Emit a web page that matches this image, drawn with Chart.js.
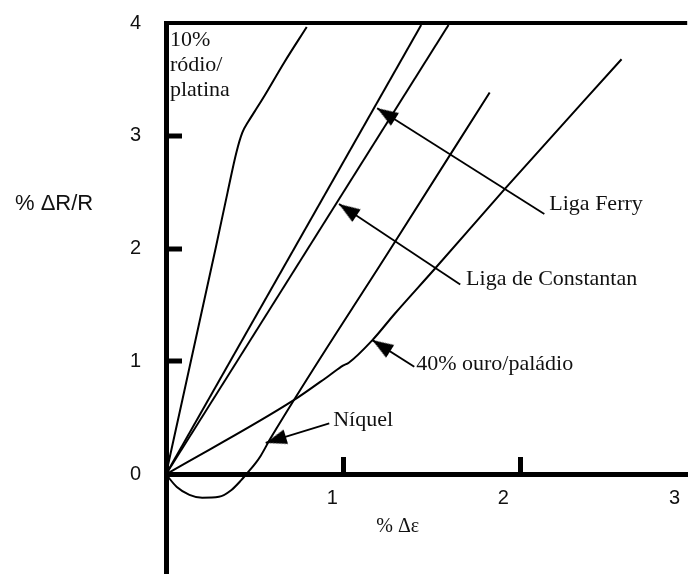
<!DOCTYPE html>
<html>
<head>
<meta charset="utf-8">
<script src="https://cdn.jsdelivr.net/npm/chart.js@4/dist/chart.umd.min.js"></script>
<style>
  html, body { margin: 0; padding: 0; background: #fff; overflow: hidden; }
  #wrap { position: relative; width: 699px; height: 584px; }
</style>
</head>
<body>
<div id="wrap"><canvas id="c"></canvas></div>
<script>
// ---- data ----
const rodioX = [0, 0.281, 0.347, 0.397, 0.430, 0.463, 0.501, 0.556, 0.667, 0.793];
const rodioY = [0, 2.013, 2.499, 2.855, 3.028, 3.124, 3.219, 3.358, 3.653, 3.965];
const ferryX = [0, 1.438];
const ferryY = [0, 3.983];
const constantanX = [0, 1.592];
const constantanY = [0, 3.983];
const niquelX = [0, 0.061, 0.132, 0.204, 0.298, 0.369, 0.424, 0.452, 0.507, 0.534, 0.590, 1.278, 1.824];
const niquelY = [0, -0.113, -0.182, -0.208, -0.200, -0.139, -0.052, 0, 0.104, 0.165, 0.321, 2.030, 3.384];
const ouroX = [0, 0.722, 0.920, 0.997, 1.030, 1.163, 1.289, 1.510, 1.912, 2.567];
const ouroY = [0, 0.659, 0.876, 0.963, 0.989, 1.189, 1.423, 1.813, 2.534, 3.679];

// arrows: Ferry, Constantan, 40% ouro/paládio, Níquel
const arrowTailX = [2.132, 1.658, 1.399, 0.920];
const arrowTailY = [2.308, 1.683, 0.954, 0.451];
const arrowTipX = [1.190, 0.975, 1.163, 0.562];
const arrowTipY = [3.245, 2.395, 1.189, 0.278];

const curveLabels = ['Liga Ferry', 'Liga de Constantan', '40% ouro/paládio', 'Níquel'];
const rodioLabel = ['10%', 'ródio/', 'platina'];

const yTicks = [0, 1, 2, 3, 4];
const xTickMarks = [1, 2];
const xTickLabels = [1, 2, 3];
const yTitle = '% ΔR/R';
const xTitle = '% Δε';

// ---- annotation anchors (data units) ----
const labelAnchorX = [2.160, 1.691, 1.410, 0.942];
const labelAnchorY = [2.343, 1.675, 0.920, 0.425];
const rodioAnchorX = 0.022;
const rodioAnchorY = [3.792, 3.575, 3.349];

const pts = (xs, ys) => xs.map((x, i) => ({x: x, y: ys[i]}));

// arrowhead image: apex at the image centre, pointing up
const head = document.createElement('canvas');
head.width = 50; head.height = 50;
(function () {
  const g = head.getContext('2d');
  g.fillStyle = '#000';
  g.beginPath();
  g.moveTo(25, 25); g.lineTo(17.5, 46); g.lineTo(32.5, 46);
  g.closePath(); g.fill();
})();

function arrowRotation(c) {
  const d = c.dataset.data;
  const xs = c.chart.scales.x, ys = c.chart.scales.y;
  const dx = xs.getPixelForValue(d[1].x) - xs.getPixelForValue(d[0].x);
  const dy = ys.getPixelForValue(d[1].y) - ys.getPixelForValue(d[0].y);
  return Math.atan2(dx, -dy) * 180 / Math.PI;
}

const curveStyle = {
  showLine: true, borderColor: '#000', backgroundColor: '#000',
  borderWidth: 2, pointRadius: 0, fill: false
};

const datasets = [
  Object.assign({label: '10% ródio/platina', data: pts(rodioX, rodioY), cubicInterpolationMode: 'monotone'}, curveStyle),
  Object.assign({label: 'Liga Ferry', data: pts(ferryX, ferryY)}, curveStyle),
  Object.assign({label: 'Liga de Constantan', data: pts(constantanX, constantanY)}, curveStyle),
  Object.assign({label: 'Níquel', data: pts(niquelX, niquelY), cubicInterpolationMode: 'monotone'}, curveStyle),
  Object.assign({label: '40% ouro/paládio', data: pts(ouroX, ouroY), cubicInterpolationMode: 'monotone'}, curveStyle)
];
arrowTailX.forEach((tx, i) => {
  datasets.push({
    label: 'arrow ' + curveLabels[i],
    data: [{x: tx, y: arrowTailY[i]}, {x: arrowTipX[i], y: arrowTipY[i]}],
    showLine: true, borderColor: '#000', backgroundColor: '#000', borderWidth: 1.8,
    pointRadius: [0, 10], pointHoverRadius: 0,
    pointStyle: head, pointRotation: arrowRotation
  });
});

const textPlugin = {
  id: 'texts',
  afterDatasetsDraw(chart) {
    const ctx = chart.ctx, xs = chart.scales.x, ys = chart.scales.y;
    ctx.save();
    ctx.fillStyle = '#111';
    ctx.textAlign = 'left';
    ctx.textBaseline = 'alphabetic';
    ctx.font = '22px "Liberation Serif", "Times New Roman", serif';
    curveLabels.forEach((t, i) => {
      ctx.fillText(t, xs.getPixelForValue(labelAnchorX[i]), ys.getPixelForValue(labelAnchorY[i]));
    });
    rodioLabel.forEach((t, i) => {
      ctx.fillText(t, xs.getPixelForValue(rodioAnchorX), ys.getPixelForValue(rodioAnchorY[i]));
    });
    // axis titles
    ctx.font = '20px "Liberation Serif", "Times New Roman", serif';
    ctx.textAlign = 'center';
    ctx.fillText(xTitle, xs.getPixelForValue(1.306), ys.getPixelForValue(-0.512));
    ctx.font = '22px "Liberation Sans", Arial, sans-serif';
    ctx.textAlign = 'left';
    ctx.fillText(yTitle, ys.left + 15, ys.getPixelForValue(2.343));
    ctx.restore();
  }
};

const tickFont = {family: '"Liberation Sans", Arial, sans-serif', size: 20};

new Chart(document.getElementById('c'), {
  type: 'scatter',
  data: {datasets: datasets},
  plugins: [textPlugin],
  options: {
    responsive: true,
    maintainAspectRatio: false,
    animation: false,
    events: [],
    layout: {padding: {top: 23, left: 0, right: 0, bottom: 0}},
    plugins: {legend: {display: false}, tooltip: {enabled: false}},
    scales: {
      y: {
        type: 'linear', position: 'left', min: -0.868, max: 4,
        afterBuildTicks: s => { s.ticks = yTicks.map(v => ({value: v})); },
        afterFit: s => { s.width = 166; s.paddingTop = 0; s.paddingBottom = 0; },
        border: {display: true, color: '#000', width: 5},
        grid: {
          display: true, drawOnChartArea: true, drawTicks: true,
          color: c => (c.tick && c.tick.value === 4) ? '#000' : 'rgba(0,0,0,0)',
          lineWidth: 4,
          tickLength: -16, tickWidth: 5,
          tickColor: c => (c.tick && c.tick.value > 0 && c.tick.value < 4) ? '#000' : 'rgba(0,0,0,0)'
        },
        ticks: {font: tickFont, color: '#111', padding: 41}
      },
      x: {
        type: 'linear', position: {y: 0}, min: 0, max: 2.937,
        afterBuildTicks: s => { s.ticks = xTickMarks.map(v => ({value: v})); },
        border: {display: true, color: '#000', width: 5},
        grid: {display: true, drawOnChartArea: false, drawTicks: true, tickLength: -20, tickWidth: 5, tickColor: '#000'},
        ticks: {display: false}
      },
      xl: {
        type: 'linear', position: {y: 0}, min: 0.0286, max: 3.074,
        afterBuildTicks: s => { s.ticks = xTickLabels.map(v => ({value: v})); },
        border: {display: false},
        grid: {display: false, drawTicks: false},
        ticks: {font: tickFont, color: '#111', padding: 12, callback: v => String(v)}
      }
    }
  }
});
</script>
</body>
</html>
